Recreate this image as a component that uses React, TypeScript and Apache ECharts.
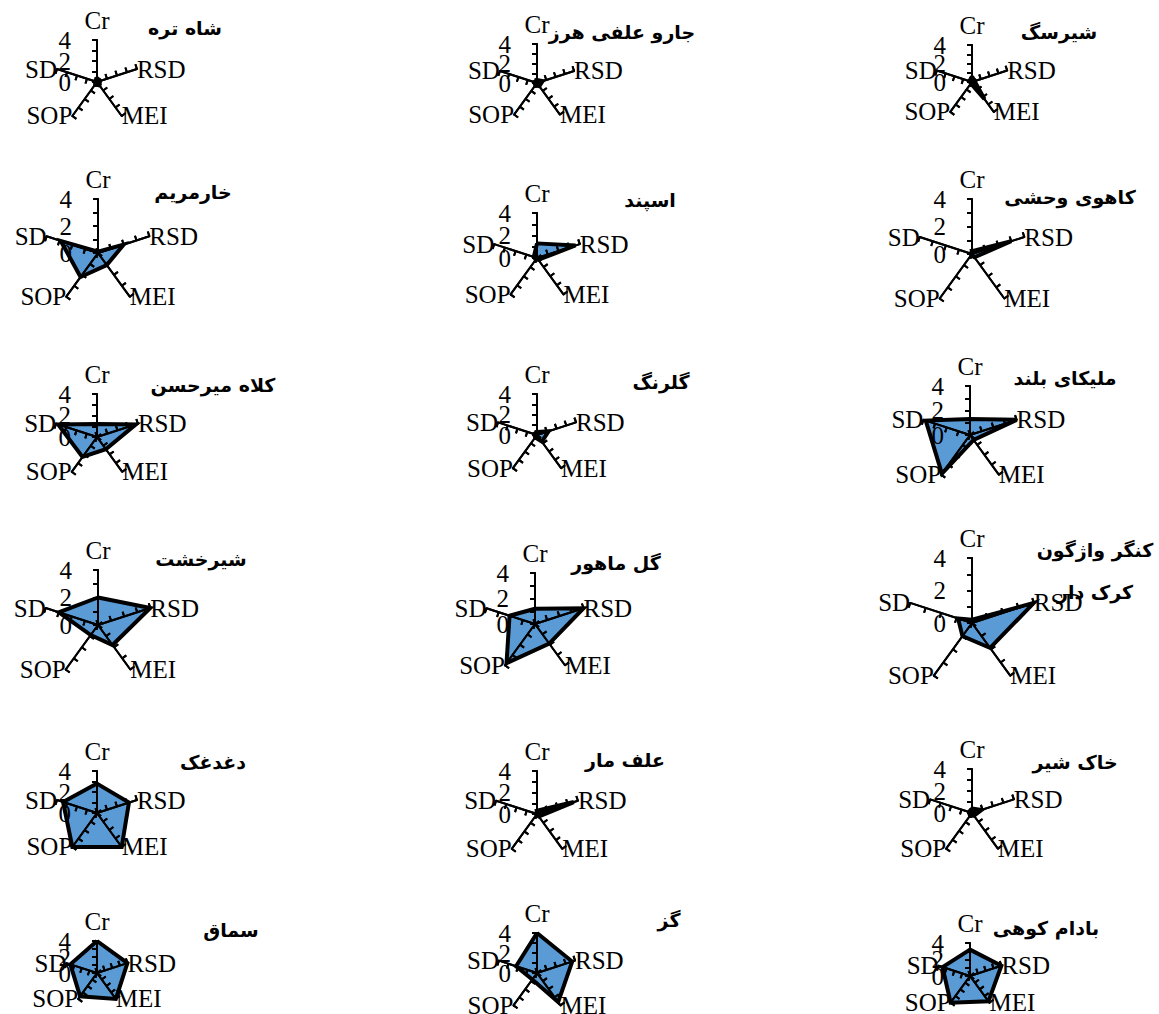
import React, { useEffect, useRef } from "react";
import * as echarts from "echarts";

// Axis names (reading order around each radar)
const axisNames = ["Cr", "RSD", "MEI", "SOP", "SD"];
const axisMax = 4;

const species = [
  "شاه تره", "جارو علفی هرز", "شیرسگ",
  "خارمریم", "اسپند", "کاهوی وحشی",
  "کلاه میرحسن", "گلرنگ", "ملیکای بلند",
  "شیرخشت", "گل ماهور", "کنگر واژگون\nکرک دار",
  "دغدغک", "علف مار", "خاک شیر",
  "سماق", "گز", "بادام کوهی",
];

const crValues = [0.4, 0.3, 0.6, 0.1, 1.3, 0.2, 1.2, 0.3, 1.3, 2.0, 1.2, 0.2, 2.8, 0.3, 0.4, 4.0, 4.0, 3.2];
const rsdValues = [0.3, 0.6, 0.3, 2.0, 3.6, 3.0, 3.8, 1.2, 4.0, 4.0, 4.0, 4.0, 3.2, 3.6, 0.9, 4.0, 3.7, 4.0];
const meiValues = [0.4, 0.4, 2.3, 1.1, 0.2, 0.3, 1.4, 0.8, 0.5, 1.8, 1.9, 1.9, 4.0, 0.3, 0.3, 4.0, 3.6, 3.8];
const sopValues = [0.3, 0.3, 0.2, 2.2, 0.2, 0.1, 2.3, 0.3, 3.9, 0.9, 3.8, 1.0, 4.0, 0.1, 0.3, 3.6, 0.8, 4.0];
const sdValues = [0.2, 0.3, 0.3, 2.9, 0.3, 0.1, 3.8, 0.3, 3.8, 3.0, 2.1, 0.9, 3.4, 0.1, 0.3, 3.5, 2.2, 3.5];

// Layout: radar centre x, centre y, radius (pixels)
const radarLayout: number[][] = [
  [97, 82, 42], [537, 83, 39], [972, 82, 37],
  [98, 253, 54], [537, 258, 45], [972, 254, 55],
  [97, 437, 43], [537, 435, 41], [970, 435, 49],
  [98, 625, 55], [535, 624, 51], [972, 623, 65],
  [97, 813, 42], [537, 814, 43], [972, 813, 44],
  [97, 973, 32], [537, 973, 40], [970, 976, 33],
];
// Title layout: centre x, centre y
const titleLayout: number[][] = [
  [185, 28], [622, 32], [1059, 32],
  [193, 192], [650, 200], [1070, 197],
  [213, 385], [661, 382], [1065, 378],
  [201, 559], [616, 563], [1095, 571],
  [213, 762], [625, 760], [1075, 762],
  [231, 930], [669, 920], [1046, 928],
];

const W = 1159;
const H = 1014;

export default function App() {
  const ref = useRef<HTMLDivElement>(null);
  useEffect(() => {
    const chart = echarts.init(ref.current!, null, { renderer: "svg" });
    const radars: any[] = [];
    const series: any[] = [];
    const graphics: any[] = [];
    // ECharts places indicators counter-clockwise: Cr, SD, SOP, MEI, RSD
    const order = [0, 4, 3, 2, 1];
    const tick = { color: "#000", width: 2 };
    species.forEach((name, i) => {
      const [cx, cy, r] = radarLayout[i];
      const base = {
        center: [cx, cy],
        radius: r,
        startAngle: 90,
        splitNumber: 4,
        shape: "polygon",
        splitLine: { show: false },
        splitArea: { show: false },
        axisLine: { lineStyle: { color: "#000", width: 2 } },
        z: 3,
      };
      radars.push({
        ...base,
        nameGap: 0,
        axisName: { color: "#000", fontSize: 25, fontFamily: "Liberation Serif" },
        axisTick: { show: true, length: 5, lineStyle: tick },
        axisLabel: { show: false },
        indicator: order.map((k) => ({
          name: axisNames[k],
          min: 0,
          max: axisMax,
          ...(k === 0
            ? {
                nameGap: 7,
                axisLabel: {
                  show: true,
                  margin: 26,
                  color: "#000",
                  fontSize: 25,
                  fontFamily: "Liberation Serif",
                  padding: [6, 0, 0, 0],
                  formatter: (v: number) => (v % 2 === 0 ? String(v) : ""),
                },
              }
            : {}),
        })),
      });
      radars.push({
        ...base,
        axisName: { show: false },
        axisTick: { show: true, inside: true, length: 5, lineStyle: tick },
        axisLabel: { show: false },
        indicator: order.map((k) => ({ name: axisNames[k], min: 0, max: axisMax })),
      });
      const vals = [crValues[i], rsdValues[i], meiValues[i], sopValues[i], sdValues[i]];
      const value = order.map((k) => vals[k]);
      const radarIndex = radars.length - 2;
      // filled area
      series.push({
        type: "radar",
        radarIndex,
        symbol: "none",
        z: 2,
        lineStyle: { width: 0, opacity: 0 },
        areaStyle: { color: "#5B9BD5", opacity: 1 },
        data: [{ value, name }],
      });
      // black outline on top of the fill
      series.push({
        type: "radar",
        radarIndex,
        symbol: "none",
        z: 2.5,
        lineStyle: { color: "#000", width: 4, join: "miter" },
        data: [{ value, name }],
      });
      const [tx, ty] = titleLayout[i];
      graphics.push({
        type: "text",
        x: tx,
        y: ty,
        z: 10,
        style: {
          text: name,
          align: "center",
          verticalAlign: "middle",
          fontFamily: "DejaVu Sans",
          fontWeight: "bold",
          fontSize: 19,
          lineHeight: 42,
          fill: "#000",
        },
      });
    });
    chart.setOption({
      animation: false,
      backgroundColor: "#fff",
      radar: radars,
      series,
      graphic: graphics,
    });
    return () => chart.dispose();
  }, []);
  return (
    <div
      ref={ref}
      style={{ position: "absolute", left: 0, top: 0, width: W, height: H }}
    />
  );
}
